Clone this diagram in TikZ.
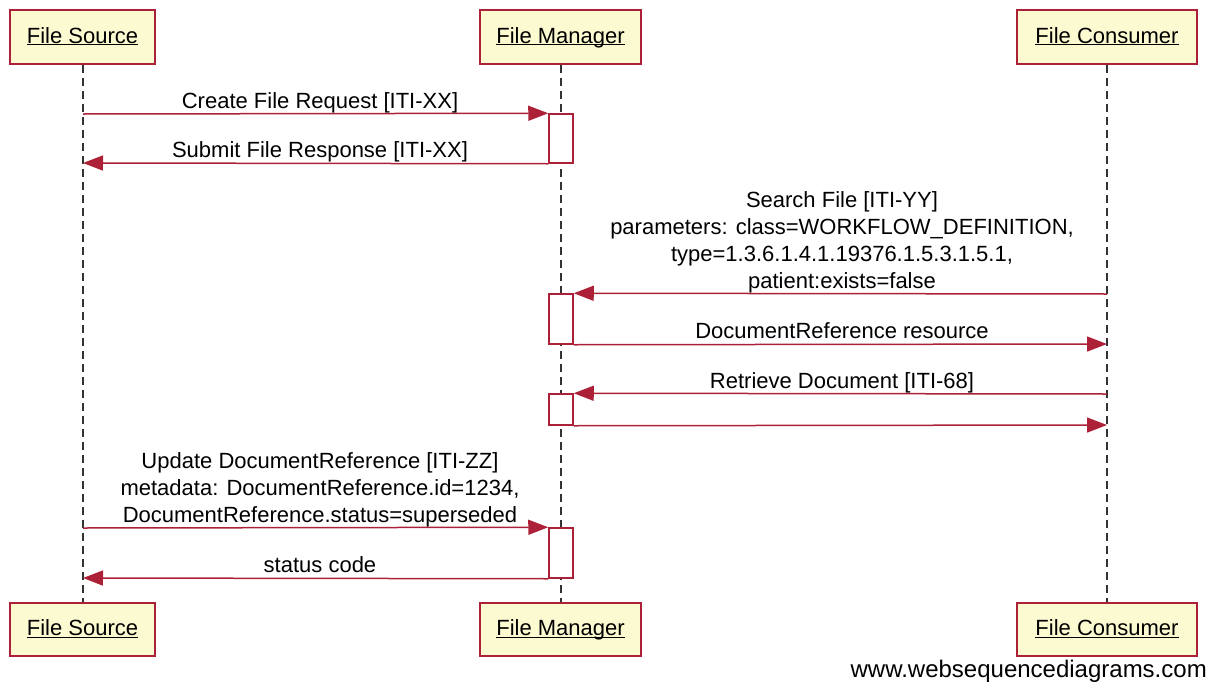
\documentclass[tikz,border=0pt]{standalone}
\usepackage{fontspec}
\setmainfont{Liberation Sans}
\usetikzlibrary{arrows.meta}
\definecolor{wsdred}{RGB}{172,32,56}
\definecolor{wsdyellow}{RGB}{252,250,208}
\newcommand\actorname[1]{\underline{\smash{#1}}}
\begin{document}
\begin{tikzpicture}[x=1pt,y=-1pt,
  actor/.style={draw=wsdred, line width=2pt, fill=wsdyellow, minimum height=54pt, inner sep=0pt, text height=16pt, text depth=4pt, font=\fontsize{22}{27}\selectfont},
  lifeline/.style={draw=black!80, line width=2pt, dash pattern=on 8pt off 5pt},
  actbox/.style={draw=wsdred, line width=1.5pt, fill=white, minimum width=24pt, inner sep=0pt},
  msg/.style={draw=wsdred, line width=1.5pt, -{Triangle[length=20pt,width=15pt]}},
  lbl/.style={anchor=base, inner sep=0pt, font=\fontsize{22}{27}\selectfont},
]
\useasboundingbox (0,0) rectangle (1219,683);

% actors
\node[actor, minimum width=145pt] (srcTop) at (82.5,37) {\actorname{File Source}};
\node[actor, minimum width=161pt] (mgrTop) at (560.5,37) {\actorname{File Manager}};
\node[actor, minimum width=180pt] (conTop) at (1107,37) {\actorname{File Consumer}};
\node[actor, minimum width=145pt, minimum height=53pt] (srcBot) at (82.5,629.5) {\actorname{File Source}};
\node[actor, minimum width=161pt, minimum height=53pt] (mgrBot) at (560.5,629.5) {\actorname{File Manager}};
\node[actor, minimum width=180pt, minimum height=53pt] (conBot) at (1107,629.5) {\actorname{File Consumer}};

% lifelines
\draw[lifeline] (srcTop.south) -- (srcBot.north);
\draw[lifeline] (mgrTop.south) -- (mgrBot.north);
\draw[lifeline] (conTop.south) -- (conBot.north);

% activation boxes
\node[actbox, minimum height=49pt] (act1) at (561,138.5) {};
\node[actbox, minimum height=50pt] (act2) at (561,319) {};
\node[actbox, minimum height=31pt] (act3) at (561,409.5) {};
\node[actbox, minimum height=50pt] (act4) at (561,553) {};

% message endpoints on lifelines
\coordinate (srcA) at (83,114);
\coordinate (srcB) at (83,163);
\coordinate (conA) at (1107,294);
\coordinate (conB) at (1107,344);
\coordinate (conC) at (1107,394);
\coordinate (conD) at (1107,425);
\coordinate (srcC) at (83,528);
\coordinate (srcD) at (83,578);

% messages
\draw[msg] (srcA) -- (act1.north west);
\draw[msg] (act1.south west) -- (srcB);
\draw[msg] (conA) -- (act2.north east);
\draw[msg] (act2.south east) -- (conB);
\draw[msg] (conC) -- (act3.north east);
\draw[msg] (act3.south east) -- (conD);
\draw[msg] (srcC) -- (act4.north west);
\draw[msg] (act4.south west) -- (srcD);

% labels
\node[lbl] (l1) at (320,108) {Create File Request [ITI-XX]};
\node[lbl] (l2) at (320,157) {Submit File Response [ITI-XX]};
\node[lbl] (l3) at (842,288) {\begin{tabular}[b]{@{}c@{}}Search File [ITI-YY]\\parameters: class=WORKFLOW\_DEFINITION,\\type=1.3.6.1.4.1.19376.1.5.3.1.5.1,\\patient:exists=false\end{tabular}};
\node[lbl] (l4) at (842,338) {DocumentReference resource};
\node[lbl] (l5) at (842,388) {Retrieve Document [ITI-68]};
\node[lbl] (l6) at (320,522) {\begin{tabular}[b]{@{}c@{}}Update DocumentReference [ITI-ZZ]\\metadata: DocumentReference.id=1234,\\DocumentReference.status=superseded\end{tabular}};
\node[lbl] (l7) at (320,572) {status code};

% watermark
\node[anchor=base east, inner sep=0pt, font=\fontsize{24}{28}\selectfont] (wm) at (1207,677) {www.websequencediagrams.com};
\end{tikzpicture}
\end{document}
